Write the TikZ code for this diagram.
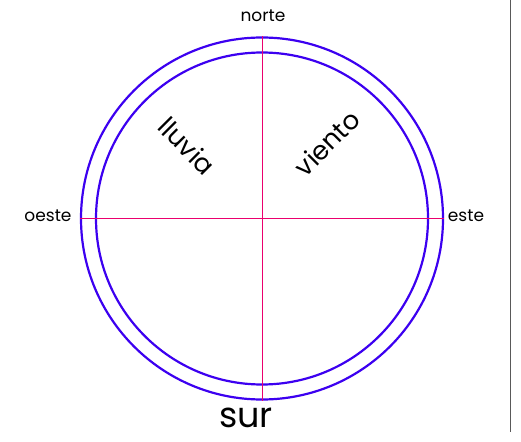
\documentclass[tikz,border=0pt]{standalone}
\usepackage{fontspec}
\setmainfont{Poppins}
\definecolor{ringblue}{RGB}{60,0,240}
\definecolor{axispink}{RGB}{235,0,110}
\begin{document}
\begin{tikzpicture}[x=1pt,y=-1pt,
  ring/.style={draw=ringblue,line width=2.2pt},
  axis/.style={draw=axispink,line width=0.8pt},
  lbl/.style={inner sep=0pt,font=\fontsize{17}{17}\selectfont},
  big/.style={inner sep=0pt,font=\fontsize{26}{26}\selectfont}]
\useasboundingbox (0,0) rectangle (521,441);
\coordinate (c) at (262,218.5);
\node[ring,circle,minimum size=362pt,inner sep=0pt] (outer) at (c) {};
\node[ring,circle,minimum size=332pt,inner sep=0pt] (inner) at (c) {};
\draw[axis] (outer.north) -- (outer.south);
\draw[axis] (outer.west) -- (outer.east);
\draw[gray!70!black,line width=1pt] (510,0) -- (510,432);
\node[lbl] (n) at (263,16) {norte};
\node[lbl] (w) at (48,216) {oeste};
\node[lbl] (e) at (466,216) {este};
\node[inner sep=0pt,font=\fontsize{35}{35}\selectfont] (s) at (246,418) {sur};
\node[big,rotate=-45] (l) at (187,146) {lluvia};
\node[big,rotate=45] (v) at (327,143) {viento};
\end{tikzpicture}
\end{document}
